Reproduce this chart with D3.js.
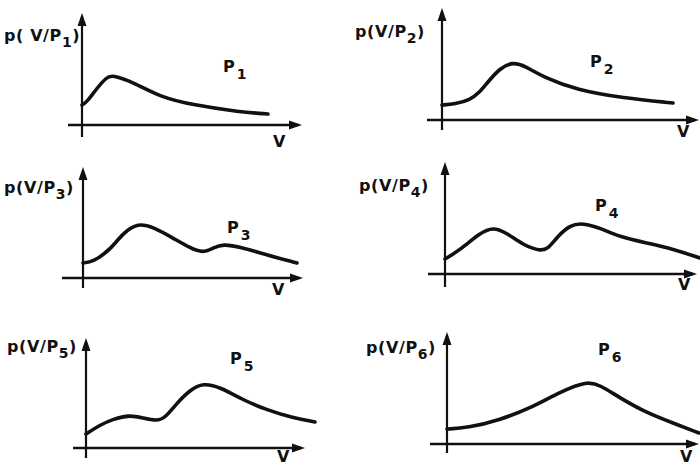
<!DOCTYPE html>
<html>
<head>
<meta charset="utf-8">
<script src="https://cdn.jsdelivr.net/npm/d3@7"></script>
<style>
  body { margin: 0; background: #fff; }
  text { font-family: "DejaVu Sans", sans-serif; font-weight: bold; fill: #111; }
</style>
</head>
<body>
<svg id="chart" width="700" height="466"></svg>
<script>
// curve samples: V along the axis, p = height of the density
var v1 = [0, 0.25, 0.75, 1.25, 1.5, 2.55, 3.9, 5.55, 7.9, 9.3];
var p1 = [2.0, 2.3, 3.7, 4.8, 5.0, 4.3, 2.8, 2.0, 1.3, 1.1];

var v2 = [0, 0.65, 1.4, 1.9, 2.25, 2.9, 3.55, 4.15, 5.05, 6.75, 9.05, 11.55];
var p2 = [1.5, 1.6, 2.0, 2.8, 3.7, 5.2, 5.8, 5.4, 4.3, 3.0, 2.2, 1.7];

var v3 = [0, 0.5, 1.35, 2.0, 2.75, 3.5, 4.5, 5.35, 6.0, 6.5, 7.0, 7.85, 9.2, 10.7];
var p3 = [1.5, 1.6, 2.8, 4.5, 5.5, 5.1, 4.0, 3.0, 2.5, 3.0, 3.4, 3.1, 2.3, 1.5];

var v4 = [0, 0.75, 1.75, 2.4, 3.1, 3.9, 4.75, 5.15, 5.6, 6.25, 6.9, 7.75, 8.75, 10.1, 11.4, 12.75];
var p4 = [1.5, 2.4, 4.1, 4.7, 4.1, 2.9, 2.3, 2.5, 3.7, 4.9, 5.1, 4.6, 3.7, 3.1, 2.5, 1.6];

var v5 = [0, 0.7, 1.35, 2.2, 2.85, 3.55, 3.95, 4.55, 5.2, 5.85, 6.7, 7.85, 9.05, 10.35, 11.45];
var p5 = [1.4, 2.3, 2.9, 3.3, 3.0, 2.7, 3.0, 4.5, 5.8, 6.5, 6.1, 4.8, 3.8, 3.0, 2.6];

var v6 = [0, 1.0, 2.65, 4.3, 5.65, 7.0, 7.65, 8.65, 10.0, 11.3, 12.6];
var p6 = [1.5, 1.6, 2.4, 3.7, 5.2, 6.3, 5.9, 4.6, 3.1, 2.1, 1.1];

var classes = ["1", "2", "3", "4", "5", "6"];
var vs = [v1, v2, v3, v4, v5, v6];
var ps = [p1, p2, p3, p4, p5, p6];

// where each small plot sits (px): origin, axis overhang and arrow tips
var layout = [
  {ox: 82,  oy: 125, left: 68,  tipX: 302, bottom: 137, tipY: 13,  lab: [4, 41],    gap: " ", cl: [223, 72],  vl: [273, 147]},
  {ox: 442, oy: 120, left: 427, tipX: 699, bottom: 130, tipY: 8,   lab: [355, 37],  gap: "",  cl: [590, 67],  vl: [677, 137]},
  {ox: 83,  oy: 278, left: 62,  tipX: 303, bottom: 288, tipY: 167, lab: [4, 193],   gap: "",  cl: [227, 233], vl: [272, 295]},
  {ox: 445, oy: 274, left: 428, tipX: 697, bottom: 287, tipY: 162, lab: [359, 191], gap: "",  cl: [595, 211], vl: [678, 290]},
  {ox: 86,  oy: 448, left: 73,  tipX: 305, bottom: 458, tipY: 338, lab: [7, 352],   gap: "",  cl: [230, 364], vl: [277, 462]},
  {ox: 447, oy: 444, left: 430, tipX: 699, bottom: 453, tipY: 332, lab: [366, 353], gap: "",  cl: [598, 355], vl: [680, 462]}
];

var pxPerV = 20, pxPerP = 10;

var svg = d3.select("#chart");

classes.forEach(function(c, i) {
  var L = layout[i];
  var x = d3.scaleLinear()
      .domain([0, (L.tipX - L.ox) / pxPerV])
      .range([L.ox, L.tipX]);
  var y = d3.scaleLinear()
      .domain([0, (L.oy - L.tipY) / pxPerP])
      .range([L.oy, L.tipY]);

  var g = svg.append("g").attr("class", "panel");

  // axes
  g.append("line")
      .attr("x1", L.left).attr("x2", x.range()[1] - 4)
      .attr("y1", y(0)).attr("y2", y(0))
      .attr("stroke", "#111").attr("stroke-width", 2.4);
  g.append("line")
      .attr("x1", x(0)).attr("x2", x(0))
      .attr("y1", L.bottom).attr("y2", y.range()[1] + 4)
      .attr("stroke", "#111").attr("stroke-width", 2.2);

  // arrow heads
  var tx = x.range()[1], ty = y(0);
  g.append("path")
      .attr("d", "M" + tx + "," + ty + "L" + (tx - 13) + "," + (ty - 4.5) + "L" + (tx - 13) + "," + (ty + 4.5) + "Z")
      .attr("fill", "#111");
  var ax = x(0), ay = y.range()[1];
  g.append("path")
      .attr("d", "M" + ax + "," + ay + "L" + (ax - 4.5) + "," + (ay + 13) + "L" + (ax + 4.5) + "," + (ay + 13) + "Z")
      .attr("fill", "#111");

  // the density curve
  var pts = d3.zip(vs[i], ps[i]);
  var line = d3.line()
      .x(function(d) { return x(d[0]); })
      .y(function(d) { return y(d[1]); })
      .curve(d3.curveBasis);
  g.append("path")
      .datum(pts)
      .attr("d", line)
      .attr("fill", "none")
      .attr("stroke", "#111")
      .attr("stroke-width", 3.6)
      .attr("stroke-linecap", "round")
      .attr("stroke-linejoin", "round");

  // y label p(V/Pi)
  var t = g.append("text")
      .attr("x", L.lab[0]).attr("y", L.lab[1])
      .attr("font-size", 16)
      .attr("letter-spacing", 0.6);
  t.append("tspan").text("p(" + L.gap + "V/P");
  t.append("tspan").attr("dy", 6).attr("font-size", 14).text(c);
  t.append("tspan").attr("dy", -6).text(")");

  // class label Pi
  var cl = g.append("text")
      .attr("x", L.cl[0]).attr("y", L.cl[1])
      .attr("font-size", 16);
  cl.append("tspan").text("P");
  cl.append("tspan").attr("dx", 2).attr("dy", 7).attr("font-size", 14).text(c);

  // axis name
  g.append("text")
      .attr("x", L.vl[0]).attr("y", L.vl[1])
      .attr("font-size", 16)
      .text("V");
});
</script>
</body>
</html>
